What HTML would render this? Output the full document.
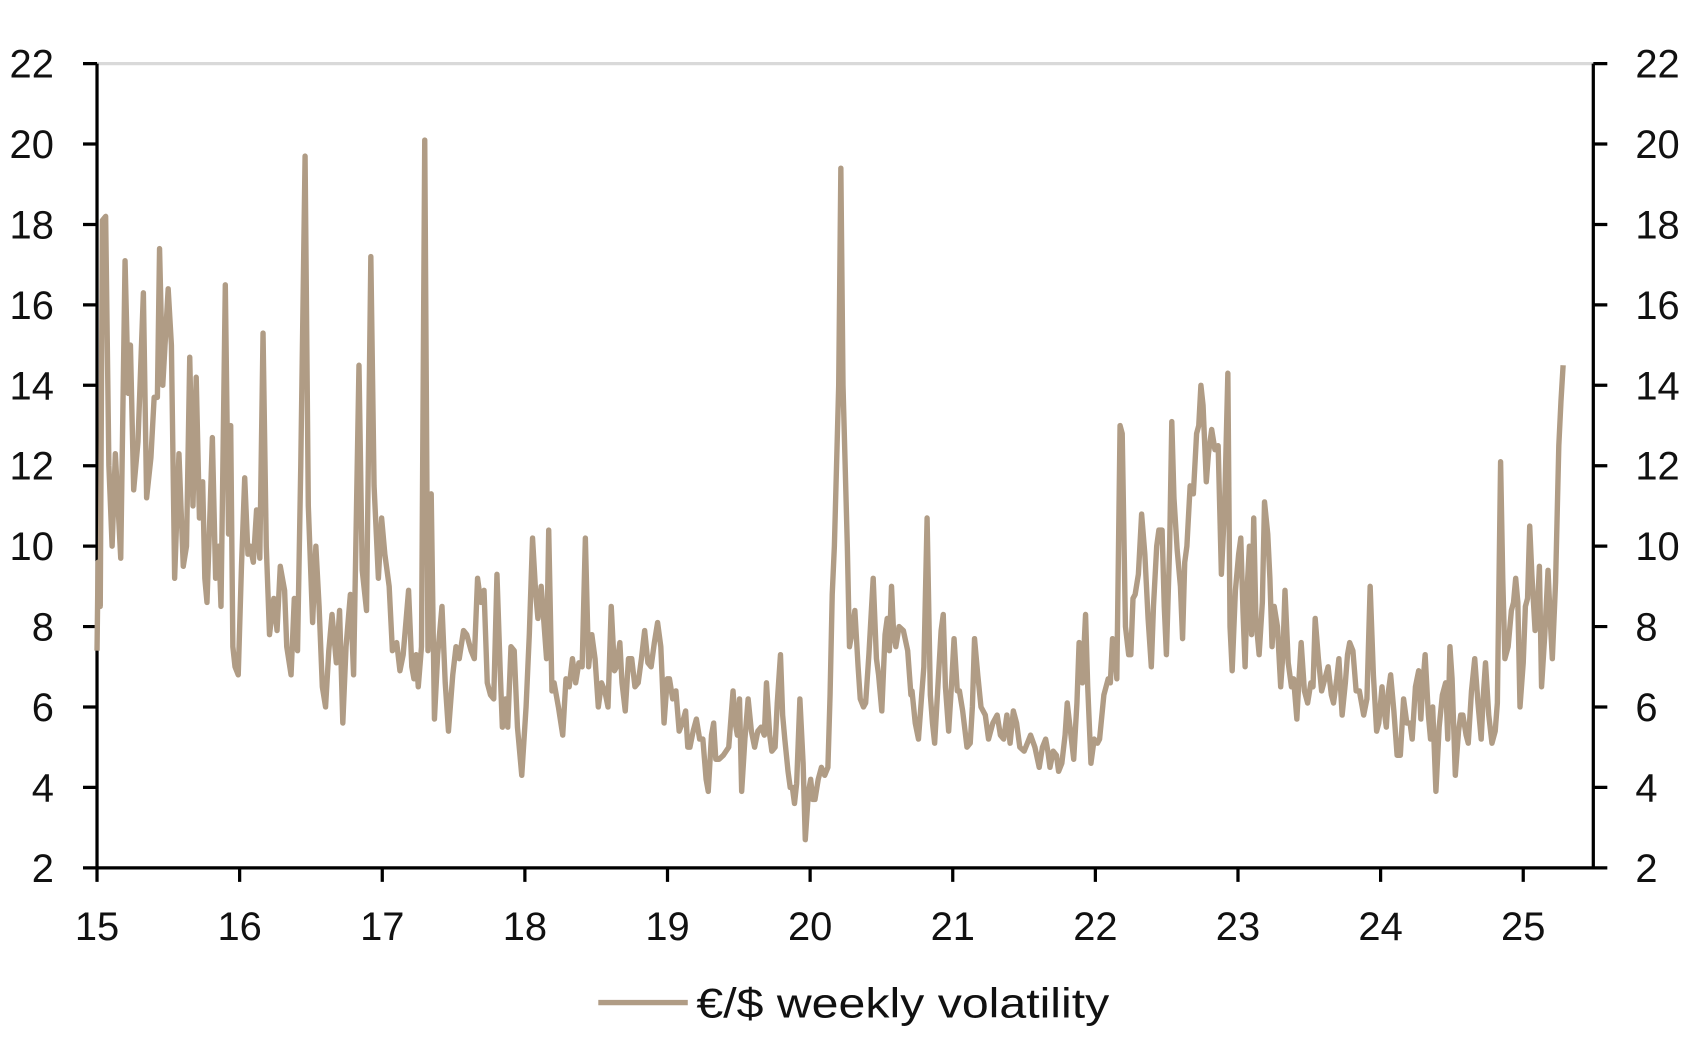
<!DOCTYPE html>
<html><head><meta charset="utf-8"><style>
html,body{margin:0;padding:0;background:#fff;}
svg text{font-family:"Liberation Sans",sans-serif;fill:#111;}
</style></head><body>
<svg id="c" width="1690" height="1040" viewBox="0 0 1567.7 964.7" xmlns="http://www.w3.org/2000/svg">
<line x1="90" y1="59" x2="1478" y2="59" stroke="#d9d9d9" stroke-width="3"/>
<g id="ax" stroke="#000" stroke-width="3" fill="none"></g>
<g id="lbl" font-size="37"></g>
<path id="ser" fill="none" stroke="#b09c85" stroke-width="5" stroke-linejoin="round"/>
<line x1="555" y1="930" x2="638" y2="930" stroke="#b09c85" stroke-width="5"/>
<text x="646" y="944" font-size="39" textLength="383" lengthAdjust="spacingAndGlyphs">€/$ weekly volatility</text>
</svg>
<script>
var ns="http://www.w3.org/2000/svg";
function el(p,t,a,txt){var e=document.createElementNS(ns,t);for(var k in a)e.setAttribute(k,a[k]);if(txt!==undefined)e.textContent=txt;p.appendChild(e);return e;}
var ax=document.getElementById('ax'),lb=document.getElementById('lbl');
var L=90,R=1478,T=59,B=805;
function Y(v){return B-(v-2)*37.3;}
var d="M"+L+" "+T+"V"+B+"H"+R+"V"+T;
for(var v=2;v<=22;v+=2){var y=Y(v);d+="M"+(L-13)+" "+y+"H"+L+"M"+R+" "+y+"H"+(R+13);
el(lb,'text',{x:50,y:y+13,'text-anchor':'end'},v);el(lb,'text',{x:1517,y:y+13},v);}
for(var i=0;i<=10;i++){var x=L+i*132.3;d+="M"+x+" "+B+"V"+(B+13);el(lb,'text',{x:x,y:872,'text-anchor':'middle'},15+i);}
el(ax,'path',{d:d});
var p=[[90,7.4],[91,9.6],[93,8.5],[95,18.1],[98,18.2],[101,12],[104,10],[107,12.3],[112,9.7],[116,17.1],[119,13.8],[121,15],[124,11.4],[128,12.6],[133,16.3],[136,11.2],[140,12.2],[143,13.7],[146,13.7],[148,17.4],[151,14],[156,16.4],[159,15],[162,9.2],[166,12.3],[170,9.5],[173,10],[176,14.7],[179,11],[182,14.2],[185,10.7],[188,11.6],[190,9.2],[192,8.6],[195,11],[197,12.7],[200,9.2],[203,10],[205,8.5],[209,16.5],[212,10.3],[214,13],[216,7.5],[218,7],[221,6.8],[224,9.5],[227,11.7],[230,9.8],[232,10],[235,9.6],[238,10.9],[241,9.7],[244,15.3],[247,10],[250,7.8],[254,8.7],[257,7.9],[260,9.5],[264,8.9],[266,7.5],[270,6.8],[273,8.7],[276,7.4],[279,12],[283,19.7],[286,11],[290,8.1],[293,10],[296,8.5],[299,6.5],[302,6],[305,7.4],[308,8.3],[312,7.1],[315,8.4],[318,5.6],[321,7.5],[325,8.8],[328,6.8],[333,14.5],[336,9.4],[340,8.4],[344,17.2],[347,11.5],[351,9.2],[354,10.7],[357,9.8],[361,9],[364,7.4],[368,7.6],[371,6.9],[374,7.3],[379,8.9],[382,7],[384,6.7],[386,7.3],[388,6.5],[391,7.5],[394,20.1],[397,7.4],[400,11.3],[403,5.7],[406,7.3],[410,8.5],[413,6.6],[416,5.4],[420,6.8],[423,7.5],[426,7.2],[430,7.9],[433,7.8],[437,7.4],[440,7.2],[443,9.2],[446,8.6],[449,8.9],[452,6.6],[455,6.3],[458,6.2],[461,9.3],[464,6.9],[466,5.5],[469,6.2],[471,5.5],[474,7.5],[477,7.4],[480,5.5],[484,4.3],[488,6.0],[491,7.8],[494,10.2],[497,8.8],[499,8.2],[502,9],[504,8.3],[507,7.2],[509,10.4],[512,6.4],[514,6.6],[518,6],[522,5.3],[525,6.7],[528,6.5],[531,7.2],[534,6.6],[537,7.1],[540,7],[543,10.2],[546,7],[549,7.8],[552,7.2],[555,6.0],[558,6.6],[561,6.4],[564,6],[567,8.5],[570,6.9],[572,7],[575,7.6],[577,6.6],[580,5.9],[583,7.2],[586,7.2],[589,6.5],[592,6.6],[595,7.2],[598,7.9],[601,7.1],[604,7.0],[607,7.6],[610,8.1],[613,7.5],[616,5.6],[619,6.7],[621,6.7],[624,6.2],[627,6.4],[630,5.4],[633,5.6],[636,5.9],[638,5],[640,5.0],[643,5.4],[646,5.7],[649,5.2],[652,5.2],[655,4.2],[657,3.9],[660,5.3],[662,5.6],[664,4.7],[667,4.7],[671,4.8],[676,5.0],[680,6.4],[682,5.6],[684,5.3],[686,6.2],[688,3.9],[691,5.2],[694,6.2],[697,5.4],[700,5.0],[703,5.4],[706,5.5],[709,5.3],[711,6.6],[714,5.3],[716,4.9],[719,5.0],[721,6.1],[724,7.3],[726,5.8],[728,5.2],[731,4.4],[733,4.0],[735,4.0],[737,3.6],[739,4.1],[742,6.2],[745,4.6],[747,2.7],[750,3.9],[752,4.2],[754,3.7],[756,3.7],[759,4.2],[762,4.5],[765,4.3],[768,4.5],[770,6.3],[772,8.8],[774,10],[776,12],[778,14],[780,19.4],[782,14],[784,12],[786,10],[788,7.5],[790,7.8],[793,8.4],[796,7],[798,6.2],[801,6.0],[803,6.1],[806,7.3],[810,9.2],[813,7.2],[815,6.8],[818,5.9],[821,7.8],[823,8.2],[825,7.4],[827,9.0],[829,7.8],[831,7.5],[834,8],[838,7.9],[842,7.4],[845,6.3],[846,6.4],[849,5.6],[852,5.2],[855,6.3],[857,7],[860,10.7],[863,6.3],[865,5.6],[867,5.1],[870,6.5],[873,7.9],[875,8.3],[877,6.5],[880,5.4],[883,6.7],[885,7.7],[888,6.4],[890,6.4],[893,5.9],[897,5.0],[900,5.1],[902,6],[904,7.7],[907,6.8],[910,6.0],[914,5.8],[917,5.2],[921,5.6],[925,5.8],[928,5.3],[931,5.2],[934,5.8],[937,5.1],[940,5.9],[943,5.6],[946,5.0],[950,4.9],[953,5.1],[956,5.3],[960,5.0],[964,4.5],[967,5.0],[970,5.2],[972,4.9],[974,4.5],[977,4.9],[980,4.8],[982,4.4],[985,4.6],[988,5.3],[990,6.1],[993,5.4],[996,4.7],[999,6.1],[1001,7.6],[1004,6.6],[1007,8.3],[1009,6.5],[1012,4.6],[1015,5.2],[1018,5.1],[1020,5.2],[1024,6.3],[1028,6.7],[1030,6.6],[1032,7.7],[1034,7.5],[1036,6.7],[1039,13.0],[1041,12.8],[1044,8.0],[1047,7.3],[1049,7.3],[1051,8.7],[1053,8.8],[1056,9.3],[1059,10.8],[1062,9.8],[1065,8.2],[1068,7.0],[1070,8.5],[1073,10.0],[1075,10.4],[1078,10.4],[1080,8.5],[1082,7.3],[1085,10],[1087,13.1],[1089,11.2],[1092,9.9],[1095,9.0],[1097,7.7],[1099,9.6],[1101,10],[1104,11.5],[1107,11.3],[1110,12.8],[1112,13],[1114,14.0],[1116,13.5],[1119,11.6],[1121,12.3],[1124,12.9],[1127,12.4],[1130,12.5],[1133,9.3],[1136,11],[1139,14.3],[1141,8],[1143,6.9],[1146,8.9],[1149,9.8],[1151,10.2],[1153,8.4],[1155,7.0],[1157,9],[1159,10.0],[1161,7.8],[1163,10.7],[1165,8.2],[1168,7.3],[1171,8.6],[1173,11.1],[1176,10.3],[1178,9.2],[1180,7.5],[1182,8.5],[1185,8.0],[1188,6.5],[1190,7.3],[1192,8.9],[1195,7.1],[1198,6.5],[1200,6.7],[1203,5.7],[1205,6.7],[1207,7.6],[1210,6.4],[1213,6.1],[1216,6.6],[1218,6.5],[1220,8.2],[1223,7.2],[1226,6.4],[1229,6.7],[1232,7.0],[1235,6.3],[1237,6.1],[1240,6.7],[1242,7.2],[1245,5.8],[1248,6.6],[1250,7.3],[1252,7.6],[1255,7.4],[1258,6.4],[1261,6.4],[1265,5.8],[1268,6.2],[1271,9.0],[1274,6.8],[1277,5.4],[1279,5.6],[1282,6.5],[1284,5.9],[1286,5.5],[1288,6.4],[1290,6.8],[1293,5.9],[1296,4.8],[1299,4.8],[1302,6.2],[1305,5.6],[1308,5.6],[1310,5.2],[1313,6.5],[1316,6.9],[1318,5.7],[1320,6.6],[1322,7.3],[1325,5.8],[1327,5.2],[1329,6.0],[1332,3.9],[1335,5.5],[1338,6.3],[1341,6.6],[1343,5.2],[1345,7.5],[1347,6.7],[1350,4.3],[1353,5.4],[1355,5.8],[1357,5.8],[1360,5.3],[1362,5.1],[1365,6.4],[1368,7.2],[1371,6.1],[1374,5.2],[1376,6.3],[1378,7.1],[1381,5.8],[1384,5.1],[1387,5.4],[1389,6.1],[1392,12.1],[1394,9.2],[1396,7.2],[1399,7.5],[1402,8.4],[1404,8.6],[1406,9.2],[1408,8.6],[1410,6.0],[1413,7.1],[1415,8.5],[1417,8.7],[1419,10.5],[1421,9.3],[1424,7.9],[1426,8.3],[1428,9.5],[1430,6.5],[1433,7.8],[1436,9.4],[1438,8.2],[1440,7.2],[1443,9.1],[1446,12.5],[1448,13.6],[1450,14.5]];
var s="";for(var i=0;i<p.length;i++){s+=(i?"L":"M")+p[i][0]+" "+Y(p[i][1]).toFixed(1);}
document.getElementById('ser').setAttribute('d',s);
</script>
</body></html>
